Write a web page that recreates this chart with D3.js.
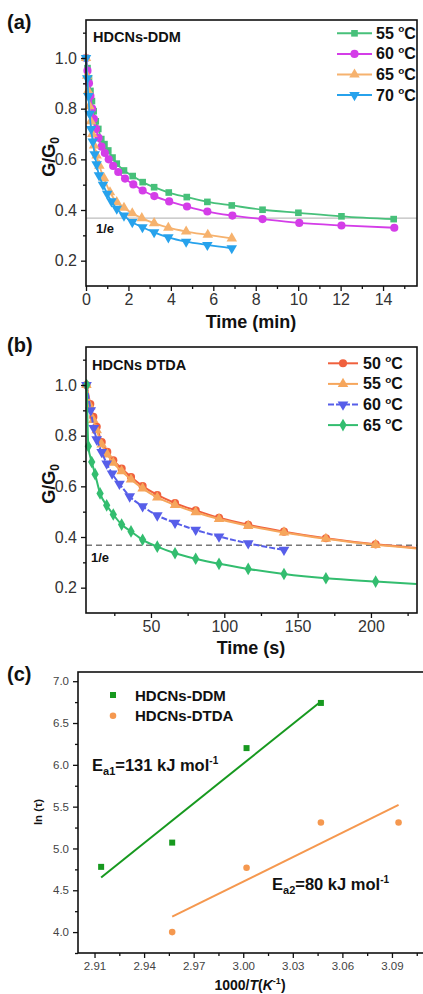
<!DOCTYPE html>
<html><head><meta charset="utf-8">
<script src="https://cdn.jsdelivr.net/npm/d3@7"></script>
<style>
body{margin:0;background:#fff}
svg{display:block;font-family:"Liberation Sans",Arial,Helvetica,sans-serif}
</style></head>
<body><svg id="chart" width="423" height="994"></svg>
<script>
// ================= DATA =================
// Panel (a) HDCNs-DDM : time (min) vs G/G0
const aSeriesLabels = ["55", "60", "65", "70"];
const aTime55 = [0, 0.07, 0.14, 0.21, 0.28, 0.36, 0.46, 0.58, 0.72, 0.87, 1.05, 1.25, 1.45, 1.79, 2.20, 2.67, 3.21, 3.90, 4.75, 5.72, 6.87, 8.32, 10.01, 12.04, 14.50];
const aG55    = [1.0, 0.96, 0.92, 0.87, 0.83, 0.79, 0.75, 0.72, 0.68, 0.66, 0.635, 0.607, 0.583, 0.556, 0.534, 0.510, 0.490, 0.469, 0.451, 0.432, 0.418, 0.401, 0.389, 0.375, 0.364];
const aTime60 = [0, 0.07, 0.14, 0.21, 0.29, 0.37, 0.47, 0.59, 0.73, 0.89, 1.07, 1.28, 1.52, 1.84, 2.23, 2.67, 3.22, 3.92, 4.76, 5.72, 6.90, 8.32, 10.05, 12.04, 14.53];
const aG60    = [1.0, 0.95, 0.90, 0.85, 0.80, 0.76, 0.72, 0.685, 0.65, 0.625, 0.60, 0.574, 0.550, 0.524, 0.501, 0.477, 0.455, 0.434, 0.414, 0.394, 0.378, 0.364, 0.349, 0.339, 0.330];
const aTime65 = [0, 0.05, 0.10, 0.16, 0.23, 0.30, 0.38, 0.50, 0.63, 0.85, 1.13, 1.45, 1.79, 2.18, 2.63, 3.21, 3.88, 4.72, 5.74, 6.87];
const aG65    = [1.0, 0.93, 0.87, 0.81, 0.75, 0.70, 0.655, 0.615, 0.575, 0.525, 0.470, 0.431, 0.409, 0.387, 0.368, 0.348, 0.330, 0.315, 0.302, 0.288];
const aTime70 = [0, 0.06, 0.11, 0.17, 0.24, 0.32, 0.41, 0.50, 0.61, 0.80, 1.00, 1.20, 1.45, 1.79, 2.18, 2.66, 3.21, 3.88, 4.72, 5.72, 6.87];
const aG70    = [1.0, 0.92, 0.85, 0.78, 0.72, 0.67, 0.62, 0.580, 0.537, 0.50, 0.464, 0.434, 0.405, 0.378, 0.352, 0.332, 0.312, 0.292, 0.275, 0.262, 0.249];
const aXTicks = [0, 2, 4, 6, 8, 10, 12, 14];
const aYTicks = [0.2, 0.4, 0.6, 0.8, 1.0];

// Panel (b) HDCNs DTDA : time (s) vs G/G0
const bSeriesLabels = ["50", "55", "60", "65"];
const bTime50 = [6, 8.6, 10.7, 13.0, 16.4, 20.2, 24.3, 30.0, 36.4, 44.3, 54.3, 66.4, 80.5, 96.4, 116.3, 140.7, 169.3, 203.2];
const bG50    = [1.0, 0.925, 0.874, 0.835, 0.775, 0.736, 0.703, 0.670, 0.637, 0.601, 0.566, 0.534, 0.505, 0.476, 0.448, 0.421, 0.395, 0.371];
const bTime55 = [6, 8.6, 10.7, 13.0, 16.4, 20.2, 24.3, 30.0, 36.4, 44.3, 54.3, 66.4, 80.5, 96.4, 116.3, 140.7, 169.3, 203.2];
const bG55    = [1.0, 0.915, 0.862, 0.822, 0.765, 0.726, 0.693, 0.660, 0.627, 0.592, 0.556, 0.526, 0.498, 0.471, 0.444, 0.418, 0.393, 0.369];
const bTime60 = [6, 8.9, 11.0, 13.0, 16.4, 19.8, 23.5, 28.5, 35.5, 44.3, 54.3, 66.4, 80.5, 96.4, 116.3, 140.7];
const bG60    = [1.0, 0.90, 0.83, 0.785, 0.735, 0.69, 0.65, 0.61, 0.56, 0.521, 0.485, 0.456, 0.428, 0.402, 0.375, 0.349];
const bTime65 = [6.2, 7.3, 9.6, 11.9, 15.3, 19.8, 24.3, 30.0, 36.4, 44.3, 54.3, 66.4, 80.5, 96.4, 116.3, 140.7, 169.3, 203.2];
const bG65    = [1.0, 0.758, 0.696, 0.648, 0.572, 0.525, 0.489, 0.449, 0.422, 0.389, 0.362, 0.336, 0.314, 0.294, 0.274, 0.254, 0.237, 0.224];
const bFitEndTime = 231;
const bFitEndG = [0.357, 0.355, null, 0.214];
const bXTicks = [50, 100, 150, 200];
const bYTicks = [0.2, 0.4, 0.6, 0.8, 1.0];

// Panel (c) Arrhenius: 1000/T vs ln(tau)
const cSeriesLabels = ["HDCNs-DDM", "HDCNs-DTDA"];
const cInvT_DDM  = [2.914, 2.957, 3.002, 3.047];
const cLnTau_DDM = [4.78, 5.07, 6.20, 6.74];
const cInvT_DTDA  = [2.957, 3.002, 3.047, 3.094];
const cLnTau_DTDA = [4.00, 4.77, 5.31, 5.31];
const cEa = ["131", "80"];
const cXTicks = [2.91, 2.94, 2.97, 3.00, 3.03, 3.06, 3.09];
const cYTicks = [4.0, 4.5, 5.0, 5.5, 6.0, 6.5, 7.0];

const INV_E = 1 / Math.E;

// ================= DRAWING =================
const svg = d3.select("#chart");
const zip = (xs, ys) => xs.map((x, i) => ({x, y: ys[i]}));

function axes(g, x, y, o) {
  const x0 = x.range()[0], x1 = x.range()[1], y0 = y.range()[1], y1 = y.range()[0];
  const style = (s, fs, col) => {
    s.select(".domain").remove();
    s.selectAll(".tick line").attr("stroke", "#111").attr("stroke-width", 1.3);
    s.selectAll(".tick text").attr("fill", col).attr("font-size", fs);
  };
  g.append("g").attr("transform", `translate(0,${y1})`)
    .call(d3.axisBottom(x).tickValues(o.xt).tickSize(5).tickPadding(o.xpad).tickFormat(o.xf))
    .call(s => style(s, o.fs, o.col));
  g.append("g").attr("transform", `translate(0,${y1})`)
    .call(d3.axisBottom(x).tickValues(o.xm).tickSize(3).tickFormat(""))
    .call(s => style(s, o.fs, o.col));
  g.append("g").attr("transform", `translate(${x0},0)`)
    .call(d3.axisLeft(y).tickValues(o.yt).tickSize(5).tickPadding(o.ypad).tickFormat(o.yf))
    .call(s => style(s, o.fs, o.col));
  g.append("g").attr("transform", `translate(${x0},0)`)
    .call(d3.axisLeft(y).tickValues(o.ym).tickSize(3).tickFormat(""))
    .call(s => style(s, o.fs, o.col));
  g.append("rect").attr("x", x0).attr("y", y0).attr("width", x1 - x0).attr("height", y1 - y0)
    .attr("fill", "none").attr("stroke", "#111").attr("stroke-width", 1.6);
}

function marker(sel, kind, size) {
  const types = {square: d3.symbolSquare, circle: d3.symbolCircle, tri: d3.symbolTriangle, tridown: d3.symbolTriangle, diamond: d3.symbolDiamond};
  sel.attr("d", d3.symbol().type(types[kind]).size(size)());
  return kind === "tridown" ? 180 : 0;
}

function drawMarkers(g, pts, x, y, kind, size, color) {
  const rot = kind === "tridown" ? 180 : 0;
  const path = d3.symbol().type({square: d3.symbolSquare, circle: d3.symbolCircle, tri: d3.symbolTriangle, tridown: d3.symbolTriangle, diamond: d3.symbolDiamond}[kind]).size(size)();
  g.selectAll(null).data(pts).join("path")
    .attr("d", path)
    .attr("transform", d => `translate(${x(d.x)},${y(d.y)}) rotate(${rot})`)
    .attr("fill", color);
}

function degLabel(g, xpos, ypos, label, fs) {
  const t = g.append("text").attr("x", xpos).attr("y", ypos).attr("font-size", fs).attr("font-weight", "bold").attr("fill", "#111");
  t.append("tspan").text(label + " ");
  t.append("tspan").text("o").attr("font-size", fs * 0.62).attr("dy", -fs * 0.4);
  t.append("tspan").text("C").attr("dy", fs * 0.4);
}

function ggTitle(g, xpos, ypos) {
  const t = g.append("text").attr("transform", `translate(${xpos},${ypos}) rotate(-90)`)
    .attr("text-anchor", "middle").attr("font-size", 18).attr("font-weight", "bold").attr("fill", "#111");
  t.append("tspan").text("G/G");
  t.append("tspan").text("0").attr("font-size", 12).attr("dy", 4);
}

// ---------- Panel (a) ----------
{
  const g = svg.append("g");
  const x = d3.scaleLinear().domain([0, 15.6]).range([86, 417]);
  const y = d3.scaleLinear().domain([0.1, 1.15]).range([286, 20]);
  // 1/e line
  g.append("line").attr("x1", x.range()[0]).attr("x2", x.range()[1]).attr("y1", y(INV_E)).attr("y2", y(INV_E))
    .attr("stroke", "#bdbdbd").attr("stroke-width", 1.3);
  const series = [
    {label: aSeriesLabels[0], pts: zip(aTime55, aG55), color: "#47c07a", kind: "square", size: 44},
    {label: aSeriesLabels[1], pts: zip(aTime60, aG60), color: "#d43de8", kind: "circle", size: 52},
    {label: aSeriesLabels[2], pts: zip(aTime65, aG65), color: "#f6b26e", kind: "tri", size: 48},
    {label: aSeriesLabels[3], pts: zip(aTime70, aG70), color: "#27a2ec", kind: "tridown", size: 48},
  ];
  const line = d3.line().x(d => x(d.x)).y(d => y(d.y)).curve(d3.curveMonotoneX);
  series.forEach(s => {
    g.append("path").attr("d", line(s.pts)).attr("fill", "none").attr("stroke", s.color).attr("stroke-width", 1.8);
    drawMarkers(g, s.pts, x, y, s.kind, s.size, s.color);
  });
  axes(g, x, y, {xt: aXTicks, xm: [1, 3, 5, 7, 9, 11, 13, 15], yt: aYTicks, ym: [0.3, 0.5, 0.7, 0.9, 1.1],
    xf: d3.format("d"), yf: d3.format(".1f"), fs: 16, col: "#333", xpad: 3, ypad: 4});
  // legend
  series.forEach((s, i) => {
    const ly = 33.3 + i * 20.6;
    g.append("line").attr("x1", 337).attr("x2", 372).attr("y1", ly).attr("y2", ly).attr("stroke", s.color).attr("stroke-width", 2);
    const rot = s.kind === "tridown" ? 180 : 0;
    g.append("path").attr("d", d3.symbol().type({square: d3.symbolSquare, circle: d3.symbolCircle, tri: d3.symbolTriangle, tridown: d3.symbolTriangle}[s.kind]).size(s.size)())
      .attr("transform", `translate(354.5,${ly}) rotate(${rot})`).attr("fill", s.color);
    degLabel(g, 376, ly + 5.5, s.label, 16);
  });
  g.append("text").attr("x", 93).attr("y", 41.5).attr("font-size", 14.5).attr("font-weight", "bold").attr("fill", "#111").text("HDCNs-DDM");
  g.append("text").attr("x", 96).attr("y", 233).attr("font-size", 13).attr("font-weight", "bold").attr("fill", "#111").text("1/e");
  g.append("text").attr("x", 251).attr("y", 328).attr("text-anchor", "middle").attr("font-size", 18).attr("font-weight", "bold").attr("fill", "#111").text("Time (min)");
  ggTitle(g, 55, 157);
  g.append("text").attr("x", 7).attr("y", 29).attr("font-size", 20).attr("font-weight", "bold").attr("fill", "#111").text("(a)");
}

// ---------- Panel (b) ----------
{
  const g = svg.append("g");
  const x = d3.scaleLinear().domain([5.7, 231.4]).range([86, 417]);
  const y = d3.scaleLinear().domain([0.1, 1.15]).range([613, 347]);
  g.append("line").attr("x1", x.range()[0]).attr("x2", x.range()[1]).attr("y1", y(INV_E)).attr("y2", y(INV_E))
    .attr("stroke", "#777").attr("stroke-width", 1.5).attr("stroke-dasharray", "6,4");
  const series = [
    {label: bSeriesLabels[0], pts: zip(bTime50, bG50), end: bFitEndG[0], color: "#f0603d", kind: "circle", size: 52, dash: null},
    {label: bSeriesLabels[1], pts: zip(bTime55, bG55), end: bFitEndG[1], color: "#f6a65c", kind: "tri", size: 48, dash: null},
    {label: bSeriesLabels[2], pts: zip(bTime60, bG60), end: bFitEndG[2], color: "#575ee9", kind: "tridown", size: 50, dash: "6,2"},
    {label: bSeriesLabels[3], pts: zip(bTime65, bG65), end: bFitEndG[3], color: "#33bd6f", kind: "diamond", size: 46, dash: null},
  ];
  const line = d3.line().x(d => x(d.x)).y(d => y(d.y)).curve(d3.curveMonotoneX);
  series.forEach(s => {
    const lp = s.end == null ? s.pts : s.pts.concat([{x: bFitEndTime, y: s.end}]);
    g.append("path").attr("d", line(lp)).attr("fill", "none").attr("stroke", s.color).attr("stroke-width", 2)
      .attr("stroke-dasharray", s.dash);
    drawMarkers(g, s.pts, x, y, s.kind, s.size, s.color);
  });
  axes(g, x, y, {xt: bXTicks, xm: [25, 75, 125, 175, 225], yt: bYTicks, ym: [0.3, 0.5, 0.7, 0.9, 1.1],
    xf: d3.format("d"), yf: d3.format(".1f"), fs: 16, col: "#333", xpad: 3, ypad: 4});
  series.forEach((s, i) => {
    const ly = 363.3 + i * 20.6;
    g.append("line").attr("x1", 328).attr("x2", 358).attr("y1", ly).attr("y2", ly).attr("stroke", s.color).attr("stroke-width", 2)
      .attr("stroke-dasharray", s.dash);
    const rot = s.kind === "tridown" ? 180 : 0;
    g.append("path").attr("d", d3.symbol().type({circle: d3.symbolCircle, tri: d3.symbolTriangle, tridown: d3.symbolTriangle, diamond: d3.symbolDiamond}[s.kind]).size(s.size)())
      .attr("transform", `translate(343,${ly}) rotate(${rot})`).attr("fill", s.color);
    degLabel(g, 363, ly + 5.5, s.label, 16);
  });
  g.append("text").attr("x", 92).attr("y", 370).attr("font-size", 14.5).attr("font-weight", "bold").attr("fill", "#111").text("HDCNs DTDA");
  g.append("text").attr("x", 91).attr("y", 562).attr("font-size", 13).attr("font-weight", "bold").attr("fill", "#111").text("1/e");
  g.append("text").attr("x", 251).attr("y", 654).attr("text-anchor", "middle").attr("font-size", 18).attr("font-weight", "bold").attr("fill", "#111").text("Time (s)");
  ggTitle(g, 55, 484);
  g.append("text").attr("x", 7).attr("y", 352).attr("font-size", 20).attr("font-weight", "bold").attr("fill", "#111").text("(b)");
}

// ---------- Panel (c) ----------
{
  const g = svg.append("g");
  const x = d3.scaleLinear().domain([2.90, 3.11]).range([78, 425]);
  const y = d3.scaleLinear().domain([3.75, 7.11]).range([953, 672]);
  function fit(xs, ys) {
    const mx = d3.mean(xs), my = d3.mean(ys);
    const sxy = d3.sum(xs, (v, i) => (v - mx) * (ys[i] - my));
    const sxx = d3.sum(xs, v => (v - mx) * (v - mx));
    const k = sxy / sxx, b = my - k * mx;
    const lo = d3.min(xs), hi = d3.max(xs);
    return [{x: lo, y: k * lo + b}, {x: hi, y: k * hi + b}];
  }
  const series = [
    {label: cSeriesLabels[0], pts: zip(cInvT_DDM, cLnTau_DDM), fit: fit(cInvT_DDM, cLnTau_DDM), color: "#17991f", kind: "square", size: 36},
    {label: cSeriesLabels[1], pts: zip(cInvT_DTDA, cLnTau_DTDA), fit: fit(cInvT_DTDA, cLnTau_DTDA), color: "#f5984f", kind: "circle", size: 34},
  ];
  const line = d3.line().x(d => x(d.x)).y(d => y(d.y));
  series.forEach(s => {
    g.append("path").attr("d", line(s.fit)).attr("fill", "none").attr("stroke", s.color).attr("stroke-width", 2);
    drawMarkers(g, s.pts, x, y, s.kind, s.size, s.color);
  });
  axes(g, x, y, {xt: cXTicks, xm: [2.925, 2.955, 2.985, 3.015, 3.045, 3.075, 3.105], yt: cYTicks, ym: [3.75, 4.25, 4.75, 5.25, 5.75, 6.25, 6.75],
    xf: d3.format(".2f"), yf: d3.format(".1f"), fs: 11.5, col: "#444", xpad: 4, ypad: 4});
  // legend
  series.forEach((s, i) => {
    const ly = 695 + i * 20.7;
    g.append("path").attr("d", d3.symbol().type(s.kind === "square" ? d3.symbolSquare : d3.symbolCircle).size(s.size)())
      .attr("transform", `translate(113,${ly})`).attr("fill", s.color);
    g.append("text").attr("x", 135).attr("y", ly + 5.5).attr("font-size", 15).attr("font-weight", "bold").attr("fill", "#111").text(s.label);
  });
  function eaText(xp, yp, sub, val) {
    const t = g.append("text").attr("x", xp).attr("y", yp).attr("font-size", 16.5).attr("font-weight", "bold").attr("fill", "#111");
    t.append("tspan").text("E");
    t.append("tspan").text(sub).attr("font-size", 11).attr("dy", 4);
    t.append("tspan").text("=" + val + " kJ mol").attr("dy", -4);
    t.append("tspan").text("-1").attr("font-size", 10).attr("dy", -7);
  }
  eaText(92, 771, "a1", cEa[0]);
  eaText(272, 890, "a2", cEa[1]);
  const xt = g.append("text").attr("x", 250).attr("y", 990).attr("text-anchor", "middle").attr("font-size", 14).attr("font-weight", "bold").attr("fill", "#111");
  xt.append("tspan").text("1000/");
  xt.append("tspan").text("T").attr("font-style", "italic");
  xt.append("tspan").text("(");
  xt.append("tspan").text("K").attr("font-style", "italic");
  xt.append("tspan").text("-1").attr("font-size", 9).attr("dy", -6);
  xt.append("tspan").text(")").attr("dy", 6);
  g.append("text").attr("transform", "translate(42,812) rotate(-90)").attr("text-anchor", "middle")
    .attr("font-size", 11.5).attr("font-weight", "bold").attr("fill", "#111").text("ln (τ)");
  g.append("text").attr("x", 7).attr("y", 681).attr("font-size", 20).attr("font-weight", "bold").attr("fill", "#111").text("(c)");
}
</script></body></html>
